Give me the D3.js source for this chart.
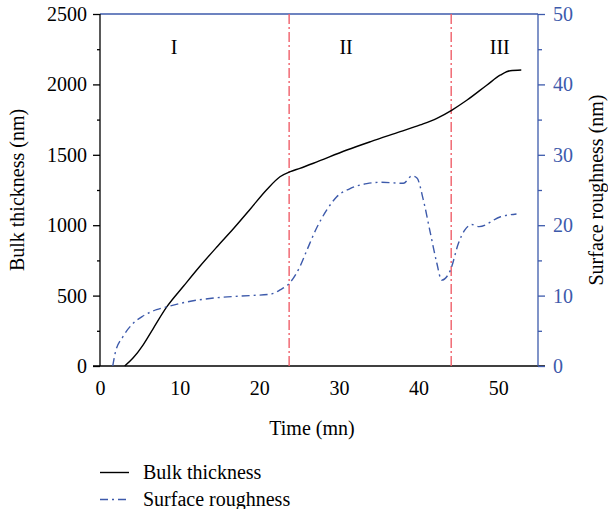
<!DOCTYPE html>
<html><head><meta charset="utf-8">
<script src="https://cdn.jsdelivr.net/npm/d3@7"></script>
<style>
body{margin:0;background:#fff;}
text{font-family:"Liberation Serif","Times New Roman",serif;}
</style></head>
<body><svg id="c" width="608" height="509"></svg>
<script>
// ---- data ----
const thicknessTime = [3.1,4.2,5.4,6.7,8.4,10.5,12.6,14.7,16.8,18.8,20.9,22.6,23.9,25.1,26.8,31.0,34.0,37.7,40.2,42.3,44.2,46.1,48.6,50.3,51.5,52.9];
const thicknessValues = [0,60,149,268,421,568,712,847,978,1110,1250,1344,1380,1404,1440,1534,1594,1664,1712,1759,1818,1889,1996,2067,2097,2102];
const roughTime = [1.6,1.9,2.9,4.2,5.4,7.1,8.4,10.9,14.7,18.8,21.4,22.6,23.9,25.1,26.0,27.2,28.5,29.7,31.4,33.5,35.2,38.1,39.15,39.8,40.6,41.5,42.3,42.9,44.0,45.0,45.8,46.7,47.6,50.3,52.3];
const roughValues = [0,1.8,4.2,6.1,7.1,8.0,8.4,9.1,9.7,10.0,10.2,10.8,11.9,14.1,16.5,19.6,22.2,24.0,25.2,25.9,26.1,25.95,27.0,26.7,23.6,18.8,14.6,12.2,13.6,17.4,19.3,20.1,19.8,21.2,21.6];
const phaseBoundaries = [23.75, 44.1];
const phaseLabels = ["I","II","III"];
const phaseLabelX = [9.3, 30.9, 50.2];
const xTicks = [0,10,20,30,40,50];
const leftTicks = [0,500,1000,1500,2000,2500];
const rightTicks = [0,10,20,30,40,50];
const legendLabels = ["Bulk thickness","Surface roughness"];

// ---- layout ----
const L = 100, R = 538, T = 14, B = 366;
const FS = 20;
const blue = "#3d5aab", red = "#f0606a";
const svg = d3.select("#c");
const x = d3.scaleLinear().domain([0,55]).range([L,R]);
const yL = d3.scaleLinear().domain([0,2500]).range([B,T]);
const yR = d3.scaleLinear().domain([0,50]).range([B,T]);
const fmt = d3.format("d");

// top border
svg.append("line").attr("x1",L).attr("x2",R).attr("y1",T).attr("y2",T).attr("stroke",blue).attr("stroke-width",1.3);

// bottom axis (no ticks)
const gx = svg.append("g").attr("transform",`translate(0,${B})`)
  .call(d3.axisBottom(x).tickValues(xTicks).tickSize(0).tickPadding(0).tickFormat(fmt));
gx.select(".domain").attr("stroke","#000").attr("stroke-width",1.3).attr("d",`M${L-7},0H${R+7}`);
gx.selectAll("text").attr("font-size",FS).attr("fill","#000").attr("dy",null).attr("y",29);

// left axis
const gl = svg.append("g").attr("transform",`translate(${L},0)`)
  .call(d3.axisLeft(yL).tickValues(leftTicks).tickSize(7).tickPadding(6).tickFormat(fmt));
gl.select(".domain").attr("stroke","#000").attr("stroke-width",1.3).attr("d",`M0,${T}V${B}`);
gl.selectAll("line").attr("stroke","#000").attr("stroke-width",1.3);
gl.selectAll("text").attr("font-size",FS).attr("fill","#000");
svg.append("g").attr("transform",`translate(${L},0)`)
  .call(d3.axisLeft(yL).tickValues(d3.range(250,2500,500)).tickSize(3).tickFormat(""))
  .call(g=>{g.select(".domain").remove(); g.selectAll("line").attr("stroke","#000").attr("stroke-width",1.3);});

// right axis
const gr = svg.append("g").attr("transform",`translate(${R},0)`)
  .call(d3.axisRight(yR).tickValues(rightTicks).tickSize(7).tickPadding(8).tickFormat(fmt));
gr.select(".domain").attr("stroke",blue).attr("stroke-width",1.3).attr("d",`M0,${T}V${B}`);
gr.selectAll("line").attr("stroke",blue).attr("stroke-width",1.3);
gr.selectAll("text").attr("font-size",FS).attr("fill",blue);
svg.append("g").attr("transform",`translate(${R},0)`)
  .call(d3.axisRight(yR).tickValues(d3.range(5,50,10)).tickSize(4).tickFormat(""))
  .call(g=>{g.select(".domain").remove(); g.selectAll("line").attr("stroke",blue).attr("stroke-width",1.3);});

// phase boundaries
svg.selectAll(".pb").data(phaseBoundaries).enter().append("line")
  .attr("x1",d=>x(d)).attr("x2",d=>x(d)).attr("y1",T).attr("y2",B)
  .attr("stroke",red).attr("stroke-width",1.4).attr("stroke-dasharray","10,3,2,3");

// phase labels
svg.selectAll(".pl").data(phaseLabels).enter().append("text")
  .attr("x",(d,i)=>x(phaseLabelX[i])).attr("y",54).attr("text-anchor","middle")
  .attr("font-size",FS).text(d=>d);

// curves
const thick = thicknessTime.map((t,i)=>[t,thicknessValues[i]]);
const rough = roughTime.map((t,i)=>[t,roughValues[i]]);
svg.append("path").datum(thick)
  .attr("d",d3.line().x(d=>x(d[0])).y(d=>yL(d[1])).curve(d3.curveMonotoneX))
  .attr("fill","none").attr("stroke","#000").attr("stroke-width",1.4);
svg.append("path").datum(rough)
  .attr("d",d3.line().x(d=>x(d[0])).y(d=>yR(d[1])).curve(d3.curveMonotoneX))
  .attr("fill","none").attr("stroke",blue).attr("stroke-width",1.4).attr("stroke-dasharray","8,4,2,4");

// axis titles
svg.append("text").attr("x",312).attr("y",435).attr("text-anchor","middle").attr("font-size",FS).text("Time (mn)");
svg.append("text").attr("transform",`translate(24,${(T+B)/2}) rotate(-90)`).attr("text-anchor","middle").attr("font-size",FS).text("Bulk thickness (nm)");
svg.append("text").attr("transform",`translate(603,${(T+B)/2}) rotate(-90)`).attr("text-anchor","middle").attr("font-size",FS).text("Surface roughness (nm)");

// legend
const lg = svg.append("g");
legendLabels.forEach((lab,i)=>{
  const yy = 472.5 + i*27;
  lg.append("line").attr("x1",100).attr("x2",129).attr("y1",yy).attr("y2",yy)
    .attr("stroke", i===0?"#000":blue).attr("stroke-width",1.4)
    .attr("stroke-dasharray", i===0?null:"8,4,2,4");
  lg.append("text").attr("x",143).attr("y",yy+6).attr("font-size",FS).text(lab);
});
</script></body></html>
